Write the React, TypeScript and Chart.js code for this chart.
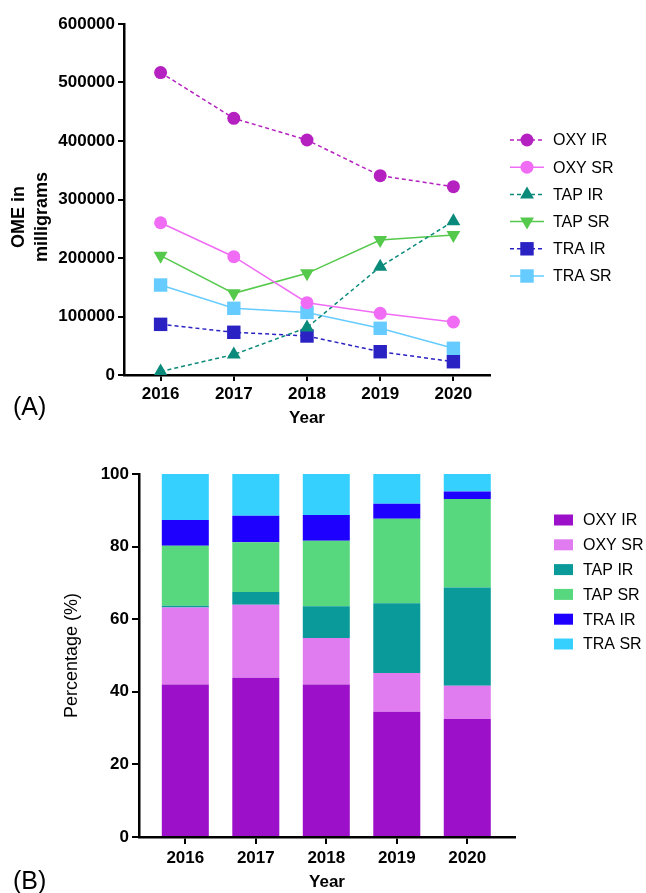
import React, { useEffect, useRef } from 'react';
import { Chart, registerables } from 'chart.js';

Chart.register(...registerables);

const FONT = "'Liberation Sans', Arial, sans-serif";

// ---------- data ----------
const years = [2016, 2017, 2018, 2019, 2020];
const seriesNames = ['OXY IR', 'OXY SR', 'TAP IR', 'TAP SR', 'TRA IR', 'TRA SR'];

// Panel A: OME in milligrams
const oxyIR = [517000, 438700, 401700, 340700, 321900];
const oxySR = [260300, 202200, 123600, 105400, 90600];
const tapIR = [6000, 35000, 81000, 185000, 263000];
const tapSR = [204000, 139600, 173800, 230700, 239300];
const traIR = [86600, 73000, 66700, 39800, 22700];
const traSR = [153800, 114000, 107000, 79800, 45600];
const omeTicks = [0, 100000, 200000, 300000, 400000, 500000, 600000];

// Panel B: percentage (%)
const pctOxyIR = [42.0, 43.9, 42.0, 34.5, 32.5];
const pctOxySR = [21.2, 20.1, 12.8, 10.7, 9.2];
const pctTapIR = [0.5, 3.5, 8.8, 19.2, 27.0];
const pctTapSR = [16.5, 13.7, 18.0, 23.3, 24.4];
const pctTraIR = [7.1, 7.3, 7.1, 4.1, 2.1];
const pctTraSR = [12.7, 11.5, 11.3, 8.2, 4.8];
const pctTicks = [0, 20, 40, 60, 80, 100];

// ---------- styles ----------
const lineColors = ['#B520C0', '#F06CF5', '#0A8A7A', '#55C94B', '#2A22C2', '#66CCFF'];
const lineStyles = [
  { style: 'circle', rot: 0, r: 6.5, dash: [4, 3] },
  { style: 'circle', rot: 0, r: 6.5, dash: [] },
  { style: 'triangle', rot: 0, r: 8, dash: [4, 3] },
  { style: 'triangle', rot: 180, r: 8, dash: [] },
  { style: 'rect', rot: 0, r: 9.5, dash: [4, 3] },
  { style: 'rect', rot: 0, r: 9.5, dash: [] },
];
const barColors = ['#9B10C8', '#E07CF0', '#0B9A9A', '#57D87E', '#1E00FF', '#36D0FF'];

function drawMarker(ctx: CanvasRenderingContext2D, style: string, rot: number, x: number, y: number, r: number, color: string) {
  ctx.beginPath();
  if (style === 'circle') {
    ctx.arc(x, y, r, 0, Math.PI * 2);
  } else if (style === 'triangle') {
    let a = (rot * Math.PI) / 180;
    for (let k = 0; k < 3; k++) {
      const px = x + Math.sin(a) * r;
      const py = y - Math.cos(a) * r;
      if (k === 0) ctx.moveTo(px, py);
      else ctx.lineTo(px, py);
      a += (2 * Math.PI) / 3;
    }
    ctx.closePath();
  } else {
    const s = r * Math.SQRT1_2;
    ctx.rect(x - s, y - s, 2 * s, 2 * s);
  }
  ctx.fillStyle = color;
  ctx.fill();
}

const lineLegend = {
  id: 'lineLegend',
  afterDraw(chart: any) {
    const ctx = chart.ctx as CanvasRenderingContext2D;
    ctx.save();
    seriesNames.forEach((name, i) => {
      const y = 140 + i * 27.2;
      const st = lineStyles[i];
      ctx.strokeStyle = lineColors[i];
      ctx.lineWidth = 1.5;
      ctx.setLineDash(st.dash);
      ctx.beginPath();
      ctx.moveTo(510, y);
      ctx.lineTo(544, y);
      ctx.stroke();
      ctx.setLineDash([]);
      drawMarker(ctx, st.style, st.rot, 527, y, st.r, lineColors[i]);
      ctx.fillStyle = '#000';
      ctx.font = `16px ${FONT}`;
      ctx.textAlign = 'left';
      ctx.textBaseline = 'middle';
      ctx.fillText(name, 553, y + 1);
    });
    // y title (two lines, rotated)
    ctx.font = `bold 18px ${FONT}`;
    ctx.textAlign = 'center';
    ctx.textBaseline = 'middle';
    ctx.translate(19.5, 217);
    ctx.rotate(-Math.PI / 2);
    ctx.fillText('OME in', 0, 0);
    ctx.fillText('milligrams', 0, 22.5);
    ctx.restore();
  },
};

const barLegend = {
  id: 'barLegend',
  afterDraw(chart: any) {
    const ctx = chart.ctx as CanvasRenderingContext2D;
    ctx.save();
    seriesNames.forEach((name, i) => {
      const y = 80 + i * 24.8;
      ctx.fillStyle = barColors[i];
      ctx.fillRect(554, y - 5.5, 19, 11);
      ctx.fillStyle = '#000';
      ctx.font = `16px ${FONT}`;
      ctx.textAlign = 'left';
      ctx.textBaseline = 'middle';
      ctx.fillText(name, 583, y + 1);
    });
    ctx.restore();
  },
};

function LineChart() {
  const ref = useRef<HTMLCanvasElement>(null);
  useEffect(() => {
    const all = [oxyIR, oxySR, tapIR, tapSR, traIR, traSR];
    const chart = new Chart(ref.current!, {
      type: 'line',
      data: {
        datasets: all.map((vals, i) => ({
          label: seriesNames[i],
          data: years.map((yr, j) => ({ x: yr, y: vals[j] })),
          borderColor: lineColors[i],
          backgroundColor: lineColors[i],
          borderWidth: 1.5,
          borderDash: lineStyles[i].dash,
          pointStyle: lineStyles[i].style as any,
          rotation: lineStyles[i].rot,
          pointRadius: lineStyles[i].r,
          pointBorderWidth: 0,
          pointBackgroundColor: lineColors[i],
          tension: 0,
          fill: false,
        })),
      },
      options: {
        animation: false,
        responsive: false,
        devicePixelRatio: 1,
        layout: { padding: { left: 0, top: 24, right: 156, bottom: 0 } },
        plugins: { legend: { display: false }, tooltip: { enabled: false } },
        scales: {
          x: {
            type: 'linear',
            min: 2015.5,
            max: 2020.5,
            afterBuildTicks: (axis: any) => {
              axis.ticks = years.map((v) => ({ value: v }));
            },
            afterFit: (scale: any) => {
              scale.height = 57;
            },
            border: { color: '#000', width: 2.5 },
            grid: { drawOnChartArea: false, drawTicks: true, tickLength: 6, color: '#000', lineWidth: 2 },
            ticks: {
              color: '#000',
              padding: 3,
              font: { family: FONT, size: 17, weight: 'bold' },
              callback: (v: any) => String(v),
            },
            title: {
              display: true,
              text: 'Year',
              color: '#000',
              font: { family: FONT, size: 17, weight: 'bold' },
              padding: { top: 0, bottom: 3.8 },
            },
          },
          y: {
            type: 'linear',
            min: 0,
            max: 600000,
            afterBuildTicks: (axis: any) => {
              axis.ticks = omeTicks.map((v) => ({ value: v }));
            },
            afterFit: (scale: any) => {
              scale.width = 124;
            },
            border: { color: '#000', width: 2.5 },
            grid: { drawOnChartArea: false, drawTicks: true, tickLength: 6, color: '#000', lineWidth: 2 },
            ticks: {
              color: '#000',
              padding: 3,
              font: { family: FONT, size: 17, weight: 'bold' },
              callback: (v: any) => String(v),
            },
          },
        },
      } as any,
      plugins: [lineLegend],
    });
    return () => chart.destroy();
  }, []);
  return <canvas ref={ref} width={646} height={432} style={{ display: 'block' }} />;
}

function BarChart() {
  const ref = useRef<HTMLCanvasElement>(null);
  useEffect(() => {
    const all = [pctOxyIR, pctOxySR, pctTapIR, pctTapSR, pctTraIR, pctTraSR];
    const chart = new Chart(ref.current!, {
      type: 'bar',
      data: {
        datasets: all.map((vals, i) => ({
          label: seriesNames[i],
          data: years.map((yr, j) => ({ x: yr, y: vals[j] })),
          backgroundColor: barColors[i],
          borderWidth: 0,
          categoryPercentage: 1,
          barPercentage: 0.667,
        })),
      },
      options: {
        animation: false,
        responsive: false,
        devicePixelRatio: 1,
        layout: { padding: { left: 0, top: 34, right: 131, bottom: 0 } },
        plugins: { legend: { display: false }, tooltip: { enabled: false } },
        scales: {
          x: {
            type: 'linear',
            stacked: true,
            offset: false,
            min: 2015.343,
            max: 2020.677,
            afterBuildTicks: (axis: any) => {
              axis.ticks = years.map((v) => ({ value: v }));
            },
            afterFit: (scale: any) => {
              scale.height = 56;
            },
            border: { color: '#000', width: 2.5 },
            grid: { offset: false, drawOnChartArea: false, drawTicks: true, tickLength: 7, color: '#000', lineWidth: 2 },
            ticks: {
              color: '#000',
              padding: 4,
              font: { family: FONT, size: 17, weight: 'bold' },
              callback: (v: any) => String(v),
            },
            title: {
              display: true,
              text: 'Year',
              color: '#000',
              font: { family: FONT, size: 17, weight: 'bold' },
              padding: { top: 0, bottom: 0.8 },
            },
          },
          y: {
            type: 'linear',
            stacked: true,
            min: 0,
            max: 100,
            afterBuildTicks: (axis: any) => {
              axis.ticks = pctTicks.map((v) => ({ value: v }));
            },
            afterFit: (scale: any) => {
              scale.width = 139;
            },
            border: { color: '#000', width: 2.5 },
            grid: { drawOnChartArea: false, drawTicks: true, tickLength: 7, color: '#000', lineWidth: 2 },
            ticks: {
              color: '#000',
              padding: 3,
              font: { family: FONT, size: 17, weight: 'bold' },
              callback: (v: any) => String(v),
            },
            title: {
              display: true,
              text: 'Percentage (%)',
              color: '#000',
              font: { family: FONT, size: 18, weight: 'normal' },
              padding: { top: 61, bottom: 0 },
            },
          },
        },
      } as any,
      plugins: [barLegend],
    });
    return () => chart.destroy();
  }, []);
  return <canvas ref={ref} width={646} height={453} style={{ display: 'block' }} />;
}

export default function App() {
  const panelLabel: React.CSSProperties = {
    position: 'absolute',
    left: 13,
    fontFamily: FONT,
    fontSize: 25,
    lineHeight: '25px',
    color: '#000',
  };
  return (
    <div style={{ position: 'absolute', left: 0, top: 0, width: 646, height: 893, background: '#fff', overflow: 'hidden' }}>
      <div style={{ position: 'absolute', left: 0, top: 0 }}>
        <LineChart />
      </div>
      <div style={{ ...panelLabel, top: 394 }}>(A)</div>
      <div style={{ position: 'absolute', left: 0, top: 440 }}>
        <BarChart />
      </div>
      <div style={{ ...panelLabel, top: 868 }}>(B)</div>
    </div>
  );
}
